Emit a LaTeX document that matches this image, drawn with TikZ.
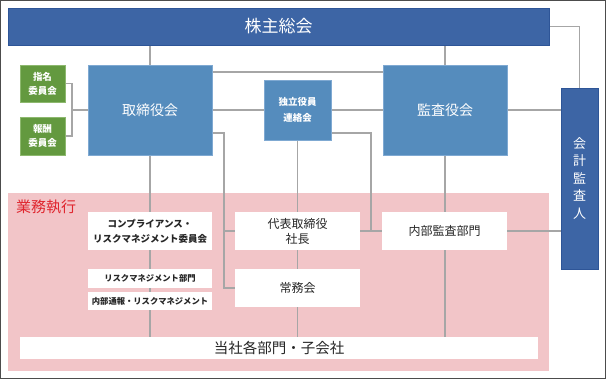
\documentclass[tikz,border=0pt]{standalone}
\usepackage{fontspec}
\setmainfont{Noto Sans CJK JP}
\usetikzlibrary{backgrounds,calc}
\definecolor{kabuao}{HTML}{3D65A5}
\definecolor{kabusen}{HTML}{2E5597}
\definecolor{torao}{HTML}{558CBD}
\definecolor{torsen}{HTML}{7FA9D2}
\definecolor{midori}{HTML}{63993F}
\definecolor{midsen}{HTML}{8DB86E}
\definecolor{momo}{HTML}{F2C5C8}
\definecolor{aka}{HTML}{E0262E}
\definecolor{sen}{HTML}{A6A6A6}
\begin{document}
\begin{tikzpicture}[x=1pt, y=-1pt,
    box/.style={anchor=north west, inner sep=0pt, outer sep=0pt, align=center},
    navybox/.style={box, fill=kabuao, draw=kabusen, line width=0.8pt, text=white},
    bluebox/.style={box, fill=torao, draw=torsen, line width=0.8pt, text=white},
    greenbox/.style={box, fill=midori, draw=midsen, line width=0.8pt, text=white},
    whitebox/.style={box, fill=white, text=black!85},
    link/.style={draw=sen, line width=1.5pt}]
    \useasboundingbox (0,0) rectangle (606,379);
    % 外枠
    \draw[gray!60!black, line width=1pt] (0.5,0.5) rectangle (605.5,378.5);

    % 業務執行（背景）
    \begin{pgfonlayer}{background}
    \node[box, fill=momo, minimum width=541pt, minimum height=178pt] (gyomu) at (8,193) {};
    \end{pgfonlayer}
    \node[anchor=west, inner sep=0pt, text=aka, font=\fontsize{15}{18}\selectfont] (gyomulabel) at (16,207) {業務執行};

    % 上段
    \node[navybox, minimum width=541pt, minimum height=37pt, font=\fontsize{17}{20}\selectfont] (soukai) at (8,8) {株主総会};
    \node[greenbox, minimum width=45pt, minimum height=37pt, font=\bfseries\fontsize{9.5}{14}\selectfont] (shimei) at (20,65) {指名\\委員会};
    \node[greenbox, minimum width=45pt, minimum height=38pt, font=\bfseries\fontsize{9.5}{14}\selectfont] (houshu) at (20,117) {報酬\\委員会};
    \node[bluebox, minimum width=124pt, minimum height=90pt, font=\fontsize{14}{17}\selectfont] (tori) at (88,65) {取締役会};
    \node[bluebox, minimum width=67pt, minimum height=60pt, font=\bfseries\fontsize{9.5}{16}\selectfont] (dokuritsu) at (264,80) {独立役員\\連絡会};
    \node[bluebox, minimum width=124pt, minimum height=90pt, font=\fontsize{14}{17}\selectfont] (kansa) at (383,65) {監査役会};
    \node[navybox, minimum width=37pt, minimum height=181pt, font=\fontsize{13}{17.5}\selectfont] (kaikei) at (561,88) {会\\計\\監\\査\\人};

    % 業務執行の各部
    \node[whitebox, minimum width=124pt, minimum height=38pt, font=\bfseries\fontsize{9.5}{15}\selectfont] (comp) at (88,212) {コンプライアンス・\\リスクマネジメント委員会};
    \node[whitebox, minimum width=124pt, minimum height=19pt, font=\bfseries\fontsize{8.3}{10}\selectfont] (riskbu) at (88,269) {リスクマネジメント部門};
    \node[whitebox, minimum width=124pt, minimum height=18pt, font=\bfseries\fontsize{8.3}{10}\selectfont] (tsuho) at (88,292) {内部通報・リスクマネジメント};
    \node[whitebox, minimum width=125pt, minimum height=38pt, font=\fontsize{12}{15}\selectfont] (daihyo) at (235,212) {代表取締役\\社長};
    \node[whitebox, minimum width=125pt, minimum height=38pt, font=\fontsize{12}{15}\selectfont] (jomu) at (235,269) {常務会};
    \node[whitebox, minimum width=125pt, minimum height=38pt, font=\fontsize{12}{15}\selectfont] (naibu) at (382,212) {内部監査部門};
    \node[whitebox, minimum width=518pt, minimum height=22pt, font=\fontsize{14.5}{17}\selectfont] (kakubu) at (20,337) {当社各部門・子会社};

    % 接続線（ボックスの下）
    \begin{pgfonlayer}{background}
    \draw[link] (soukai.south -| tori.north) -- (tori.north);
    \draw[link] (soukai.south -| kansa.north) -- (kansa.north);
    \draw[link] (soukai.east) -| (kaikei.north);
    \draw[link] (shimei.east) -- ++(7,0) |- (houshu.east);
    \draw[link] (tori.west) -- ++(-16,0);
    \draw[link] ([yshift=-7pt]tori.north east) -- ([yshift=-7pt]kansa.north west);
    \draw[link] (tori.east) -- (dokuritsu.west);
    \draw[link] (dokuritsu.east) -- (kansa.west);
    \draw[link] (kansa.east) -- (kansa.east -| kaikei.west);
    \draw[link] ([yshift=-23pt]tori.east) -| ([xshift=-11pt]jomu.west) -- (jomu.west);
    \draw[link] (daihyo.west) -- ++(-11,0);
    \draw[link] ([yshift=-23pt]dokuritsu.east) -| ($(daihyo.east)!.5!(naibu.west)$);
    \draw[link] (daihyo.east) -- (naibu.west);
    \draw[link] (naibu.east) -- (naibu.east -| kaikei.west);
    \draw[link] (tori.south) -- (tori.south |- kakubu.north);
    \draw[link] (dokuritsu.south) -- (dokuritsu.south |- kakubu.north);
    \draw[link] (kansa.south) -- (kansa.south |- kakubu.north);
    \end{pgfonlayer}
\end{tikzpicture}
\end{document}
